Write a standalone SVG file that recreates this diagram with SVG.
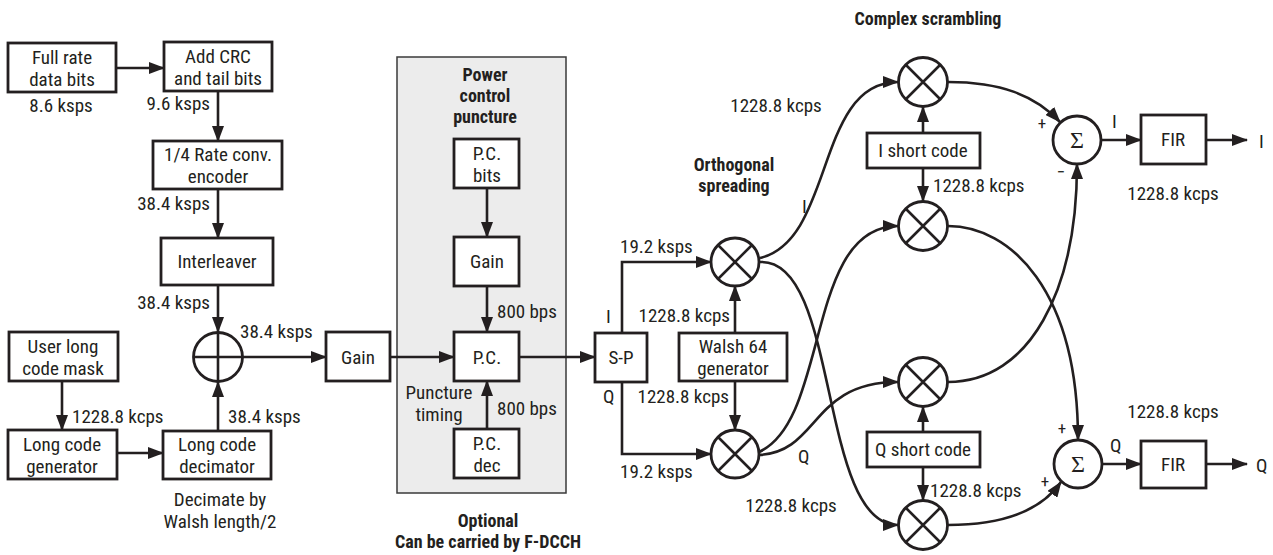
<svg xmlns="http://www.w3.org/2000/svg" width="1273" height="555" viewBox="0 0 1273 555">
<style>
text{font-family:"Liberation Sans Narrow","Roboto Condensed","DejaVu Sans Condensed","Liberation Sans",sans-serif;font-size:19px;fill:#231f20}
.c{text-anchor:middle}
.e{text-anchor:end}
.b{font-weight:bold;font-size:18px}
.box{fill:#fff;stroke:#231f20;stroke-width:2.8}
.gbox{fill:#fff;stroke:#231f20;stroke-width:2.8}
.ln{fill:none;stroke:#231f20;stroke-width:2.6}
.ar{fill:none;stroke:#231f20;stroke-width:2.6;marker-end:url(#ah)}
.op{fill:#fff;stroke:#231f20;stroke-width:2.8}
.sig{font-family:"Liberation Serif","DejaVu Serif",serif;font-size:24px}
.pm{font-size:17px}
</style>
<defs>
<marker id="ah" markerUnits="userSpaceOnUse" markerWidth="16" markerHeight="12" refX="15" refY="6" orient="auto">
<path d="M0,0 L16,6 L0,12 z" fill="#231f20"/>
</marker>
</defs>

<rect x="397" y="57" width="169" height="436" fill="#ececec" stroke="#3a3a3a" stroke-width="1.5"/>

<g id="connectors">
<path class="ar" d="M116,68 H164"/>
<path class="ar" d="M218,91 V141"/>
<path class="ar" d="M218,189 V238"/>
<path class="ar" d="M218,285 V332"/>
<path class="ar" d="M218,431 V382"/>
<path class="ar" d="M242,357 H326"/>
<path class="ar" d="M62,381 V430"/>
<path class="ar" d="M117,453 H163"/>
<path class="ar" d="M487,188 V237"/>
<path class="ar" d="M487,286 V332"/>
<path class="ar" d="M487,429 V381"/>
<path class="ar" d="M390,357 H454"/>
<path class="ar" d="M519,357 H595"/>
<path class="ar" d="M622,333 V262 H711"/>
<path class="ar" d="M622,382 V454 H711"/>
<path class="ar" d="M735,333 V286"/>
<path class="ar" d="M735,381 V430"/>
<path class="ar" d="M923,133 V107"/>
<path class="ar" d="M923,168 V201"/>
<path class="ar" d="M923,432 V407"/>
<path class="ar" d="M923,467 V500"/>
<path class="ar" d="M760,258 C835,240 815,82 898,82"/>
<path class="ar" d="M760,262 C840,258 818,525 898,525"/>
<path class="ar" d="M759,452 C830,420 805,226 898,226"/>
<path class="ar" d="M759,455 C820,452 810,382 898,382"/>
<path class="ar" d="M948,82 C1000,82 1035,95 1060,122"/>
<path class="ar" d="M948,226 C1010,226 1078,290 1078,440"/>
<path class="ar" d="M948,382 C1030,382 1077,290 1077,164"/>
<path class="ar" d="M948,525 C1000,525 1040,512 1061,482"/>
<path class="ar" d="M1101,140 H1141"/>
<path class="ar" d="M1206,140 H1247"/>
<path class="ar" d="M1102,464 H1141"/>
<path class="ar" d="M1206,464 H1247"/>
</g>

<g id="full-rate"><rect class="box" x="8" y="43" width="108" height="49"/><text class="c" x="62" y="64">Full rate</text><text class="c" x="62" y="86">data bits</text></g>
<g id="add-crc"><rect class="box" x="164" y="42" width="108" height="49"/><text class="c" x="218" y="63">Add CRC</text><text class="c" x="218" y="85">and tail bits</text></g>
<g id="encoder"><rect class="box" x="153" y="141" width="129" height="48"/><text class="c" x="218" y="161">1/4 Rate conv.</text><text class="c" x="218" y="183">encoder</text></g>
<g id="interleaver"><rect class="box" x="161" y="238" width="112" height="47"/><text class="c" x="217" y="268">Interleaver</text></g>
<g id="xor"><circle class="op" cx="218" cy="357" r="24.5"/><path class="ln" d="M193.5,357 H242.5 M218,332.5 V381.5"/></g>
<g id="user-mask"><rect class="box" x="9" y="332" width="109" height="49"/><text class="c" x="63" y="353">User long</text><text class="c" x="63" y="375">code mask</text></g>
<g id="long-gen"><rect class="box" x="8" y="430" width="109" height="49"/><text class="c" x="62" y="451">Long code</text><text class="c" x="62" y="473">generator</text></g>
<g id="long-dec"><rect class="box" x="163" y="431" width="108" height="48"/><text class="c" x="217" y="451">Long code</text><text class="c" x="217" y="473">decimator</text></g>
<g id="gain1"><rect class="box" x="326" y="332" width="64" height="49"/><text class="c" x="358" y="364">Gain</text></g>
<g id="pc-bits"><rect class="gbox" x="454" y="139" width="65" height="49"/><text class="c" x="487" y="160">P.C.</text><text class="c" x="487" y="182">bits</text></g>
<g id="gain2"><rect class="gbox" x="454" y="237" width="65" height="49"/><text class="c" x="487" y="268">Gain</text></g>
<g id="pc"><rect class="gbox" x="454" y="332" width="65" height="49"/><text class="c" x="487" y="364">P.C.</text></g>
<g id="pc-dec"><rect class="gbox" x="454" y="429" width="65" height="49"/><text class="c" x="487" y="450">P.C.</text><text class="c" x="487" y="472">dec</text></g>
<g id="sp"><rect class="box" x="595" y="333" width="52" height="49"/><text class="c" x="621" y="364">S-P</text></g>
<g id="mult-i"><circle class="op" cx="735" cy="262" r="24"/><path class="ln" d="M718,245 L752,279 M752,245 L718,279"/></g>
<g id="mult-q"><circle class="op" cx="735" cy="454" r="24"/><path class="ln" d="M718,437 L752,471 M752,437 L718,471"/></g>
<g id="walsh"><rect class="box" x="679" y="333" width="108" height="48"/><text class="c" x="733" y="353">Walsh 64</text><text class="c" x="733" y="375">generator</text></g>
<g id="mult-1"><circle class="op" cx="923" cy="82" r="24.5"/><path class="ln" d="M906,65 L940,99 M940,65 L906,99"/></g>
<g id="i-short"><rect class="box" x="867" y="133" width="113" height="35"/><text class="c" x="923" y="157">I short code</text></g>
<g id="mult-2"><circle class="op" cx="923" cy="226" r="24.5"/><path class="ln" d="M906,209 L940,243 M940,209 L906,243"/></g>
<g id="mult-3"><circle class="op" cx="923" cy="382" r="24.5"/><path class="ln" d="M906,365 L940,399 M940,365 L906,399"/></g>
<g id="q-short"><rect class="box" x="867" y="432" width="113" height="35"/><text class="c" x="923" y="456">Q short code</text></g>
<g id="mult-4"><circle class="op" cx="923" cy="525" r="24.5"/><path class="ln" d="M906,508 L940,542 M940,508 L906,542"/></g>
<g id="sum-i"><circle class="op" cx="1077" cy="140" r="24"/><text class="c sig" x="1077" y="148">Σ</text></g>
<g id="sum-q"><circle class="op" cx="1078" cy="464" r="24"/><text class="c sig" x="1078" y="472">Σ</text></g>
<g id="fir-i"><rect class="box" x="1141" y="115" width="65" height="49"/><text class="c" x="1173" y="146">FIR</text></g>
<g id="fir-q"><rect class="box" x="1141" y="441" width="65" height="47"/><text class="c" x="1173" y="471">FIR</text></g>

<g id="labels">
<text class="c" x="61" y="112">8.6 ksps</text>
<text class="e" x="210" y="110">9.6 ksps</text>
<text class="e" x="210" y="210">38.4 ksps</text>
<text class="e" x="210" y="309">38.4 ksps</text>
<text x="240" y="338">38.4 ksps</text>
<text x="72" y="423">1228.8 kcps</text>
<text x="228" y="423">38.4 ksps</text>
<text class="c" x="220" y="506">Decimate by</text>
<text class="c" x="220" y="528">Walsh length/2</text>
<text class="c b" x="485" y="81">Power</text>
<text class="c b" x="485" y="102">control</text>
<text class="c b" x="485" y="123">puncture</text>
<text x="497" y="318">800 bps</text>
<text x="497" y="415">800 bps</text>
<text class="c" x="439" y="399">Puncture</text>
<text class="c" x="439" y="421">timing</text>
<text class="c b" x="488" y="527">Optional</text>
<text class="c b" x="488" y="548">Can be carried by F-DCCH</text>
<text x="606" y="323">I</text>
<text x="603" y="403">Q</text>
<text x="620" y="253">19.2 ksps</text>
<text x="620" y="478">19.2 ksps</text>
<text class="e" x="730" y="322">1228.8 kcps</text>
<text class="e" x="729" y="403">1228.8 kcps</text>
<text class="c b" x="928" y="25">Complex scrambling</text>
<text class="c b" x="734" y="171">Orthogonal</text>
<text class="c b" x="734" y="192">spreading</text>
<text class="c" x="776" y="112">1228.8 kcps</text>
<text x="802" y="213">I</text>
<text x="798" y="463">Q</text>
<text class="c" x="791" y="512">1228.8 kcps</text>
<text x="933" y="192">1228.8 kcps</text>
<text x="930" y="497">1228.8 kcps</text>
<text class="c" x="1173" y="200">1228.8 kcps</text>
<text class="c" x="1173" y="418">1228.8 kcps</text>
<text x="1112" y="128">I</text>
<text x="1110" y="452">Q</text>
<text x="1259" y="148">I</text>
<text x="1256" y="472">Q</text>
<text class="c pm" x="1042" y="129">+</text>
<text class="c pm" x="1061" y="178">−</text>
<text class="c pm" x="1062" y="434">+</text>
<text class="c pm" x="1045" y="487">+</text>
</g>
</svg>
